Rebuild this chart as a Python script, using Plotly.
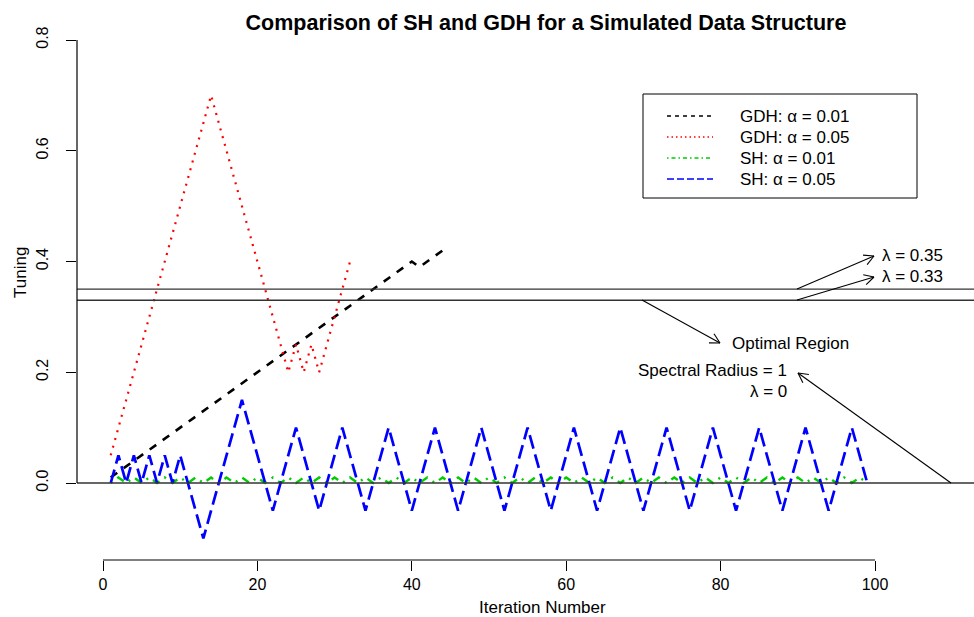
import math
import plotly.graph_objects as go

# ---------------- data ----------------
gdh01_x = list(range(1, 45))
gdh01_y = [0.01, 0.02, 0.03, 0.04, 0.05, 0.06, 0.07, 0.08, 0.09, 0.10,
           0.11, 0.12, 0.13, 0.14, 0.15, 0.16, 0.17, 0.18, 0.19, 0.20,
           0.21, 0.22, 0.23, 0.24, 0.25, 0.26, 0.27, 0.28, 0.29, 0.30,
           0.31, 0.32, 0.33, 0.34, 0.35, 0.36, 0.37, 0.38, 0.39, 0.40,
           0.39, 0.40, 0.41, 0.42]

gdh05_x = list(range(1, 33))
gdh05_y = [0.05, 0.10, 0.15, 0.20, 0.25, 0.30, 0.35, 0.40, 0.45, 0.50,
           0.55, 0.60, 0.65, 0.70, 0.65, 0.60, 0.55, 0.50, 0.45, 0.40,
           0.35, 0.30, 0.25, 0.20, 0.25, 0.20, 0.25, 0.20, 0.25, 0.30,
           0.35, 0.40]

sh01_x = list(range(1, 100))
sh01_y = [0, 0.01, 0, 0.01, 0, 0.01, 0, 0.01, 0, 0.01,
          0, 0.01, 0, 0.01, 0, 0.01, 0, 0.01, 0, 0.01,
          0, 0.01, 0, 0.01, 0, 0.01, 0, 0.01, 0, 0.01,
          0, 0.01, 0, 0.01, 0, 0.01, 0, 0.01, 0, 0.01,
          0, 0.01, 0, 0.01, 0, 0.01, 0, 0.01, 0, 0.01,
          0, 0.01, 0, 0.01, 0, 0.01, 0, 0.01, 0, 0.01,
          0, 0.01, 0, 0.01, 0, 0.01, 0, 0.01, 0, 0.01,
          0, 0.01, 0, 0.01, 0, 0.01, 0, 0.01, 0, 0.01,
          0, 0.01, 0, 0.01, 0, 0.01, 0, 0.01, 0, 0.01,
          0, 0.01, 0, 0.01, 0, 0.01, 0, 0.01, 0]

sh05_x = list(range(1, 100))
sh05_y = [0, 0.05, 0, 0.05, 0, 0.05, 0, 0.05, 0, 0.05,
          0, -0.05, -0.10, -0.05, 0, 0.05, 0.10, 0.15, 0.10, 0.05,
          0, -0.05, 0, 0.05, 0.10, 0.05, 0, -0.05, 0, 0.05,
          0.10, 0.05, 0, -0.05, 0, 0.05, 0.10, 0.05, 0, -0.05,
          0, 0.05, 0.10, 0.05, 0, -0.05, 0, 0.05, 0.10, 0.05,
          0, -0.05, 0, 0.05, 0.10, 0.05, 0, -0.05, 0, 0.05,
          0.10, 0.05, 0, -0.05, 0, 0.05, 0.10, 0.05, 0, -0.05,
          0, 0.05, 0.10, 0.05, 0, -0.05, 0, 0.05, 0.10, 0.05,
          0, -0.05, 0, 0.05, 0.10, 0.05, 0, -0.05, 0, 0.05,
          0.10, 0.05, 0, -0.05, 0, 0.05, 0.10, 0.05, 0]

ref_levels = [0.35, 0.33, 0.0]
x_ticks = [0, 20, 40, 60, 80, 100]
y_ticks = [0.0, 0.2, 0.4, 0.6, 0.8]
y_tick_text = ["0.0", "0.2", "0.4", "0.6", "0.8"]

series_names = ["GDH: α = 0.01", "GDH: α = 0.05", "SH: α = 0.01", "SH: α = 0.05"]
series_colors = ["#000000", "#FF0000", "#00CD00", "#0000FF"]
series_dash = ["8px,8px", "2px,6px", "2px,6px,8px,6px", "14px,6px"]
legend_dash = ["4px,4px", "1.5px,3px", "1.5px,3px,4px,3px", "7px,3px"]
series_width = [2.6, 2.2, 2.4, 2.7]

# ---------------- geometry (pixel mapping) ----------------
W, H = 974, 617
L, R, T, B = 77, 0, 0, 57
X0PX, XS = 103.0, 7.72      # pixel of x=0, px per unit
Y0PX, YS = 483.0, 553.75    # pixel of y=0, px per unit


def dx(p):
    return (p - X0PX) / XS


def dy(p):
    return (Y0PX - p) / YS


FONT = "Liberation Sans, Arial, Helvetica, sans-serif"

fig = go.Figure()
xs = [gdh01_x, gdh05_x, sh01_x, sh05_x]
ys = [gdh01_y, gdh05_y, sh01_y, sh05_y]
for i in range(4):
    fig.add_trace(go.Scatter(
        x=xs[i], y=ys[i], mode="lines", name=series_names[i],
        line=dict(color=series_colors[i], dash=series_dash[i], width=series_width[i]),
        showlegend=False, hoverinfo="skip"))

shapes = []
# reference horizontal lines (from y axis to right edge)
for lv in ref_levels:
    shapes.append(dict(type="line", xref="paper", yref="y", x0=0, x1=1, y0=lv, y1=lv,
                       line=dict(color="#333333", width=1.3)))
# axis lines
shapes.append(dict(type="line", xref="x", yref="paper", x0=x_ticks[0], x1=x_ticks[-1], y0=0, y1=0,
                   line=dict(color="black", width=1.2)))
shapes.append(dict(type="line", xref="paper", yref="y", x0=0, x1=0, y0=y_ticks[0], y1=y_ticks[-1],
                   line=dict(color="black", width=1.2)))


def arrow(x1p, y1p, x2p, y2p, head=11, ang=28):
    out = [dict(type="line", xref="x", yref="y", x0=dx(x1p), y0=dy(y1p), x1=dx(x2p), y1=dy(y2p),
                line=dict(color="black", width=1.1))]
    th = math.atan2(y2p - y1p, x2p - x1p)
    for s in (1, -1):
        a = th + math.pi + s * math.radians(ang)
        hx = x2p + head * math.cos(a)
        hy = y2p + head * math.sin(a)
        out.append(dict(type="line", xref="x", yref="y", x0=dx(hx), y0=dy(hy), x1=dx(x2p), y1=dy(y2p),
                        line=dict(color="black", width=1.1)))
    return out


shapes += arrow(797, 289, 874, 256)
shapes += arrow(797, 300, 874, 277)
shapes += arrow(642, 300, 720, 343)
shapes += arrow(951, 483, 798, 373)

# manual legend
LEG_L, LEG_R, LEG_T, LEG_B = 643, 917, 94, 198
shapes.append(dict(type="rect", xref="x", yref="y", x0=dx(LEG_L), x1=dx(LEG_R), y0=dy(LEG_T), y1=dy(LEG_B),
                   line=dict(color="black", width=1), fillcolor="white", layer="above"))
row_px = [116, 137, 158, 179]
annotations = []
for i in range(4):
    shapes.append(dict(type="line", xref="x", yref="y", x0=dx(667), x1=dx(713), y0=dy(row_px[i]), y1=dy(row_px[i]),
                       line=dict(color=series_colors[i], dash=legend_dash[i], width=1.5)))
    annotations.append(dict(x=dx(738), y=dy(row_px[i]), xref="x", yref="y", text=series_names[i],
                            showarrow=False, xanchor="left", yanchor="middle",
                            font=dict(family=FONT, size=17, color="black")))

# text annotations
annotations += [
    dict(x=dx(881), y=dy(255), text="λ = 0.35", xanchor="left"),
    dict(x=dx(881), y=dy(276), text="λ = 0.33", xanchor="left"),
    dict(x=dx(790), y=dy(343), text="Optimal Region", xanchor="center"),
    dict(x=dx(788), y=dy(370), text="Spectral Radius = 1", xanchor="right"),
    dict(x=dx(788), y=dy(391), text="λ = 0", xanchor="right"),
]
for a in annotations[4:]:
    a.update(xref="x", yref="y", showarrow=False, yanchor="middle", borderpad=0,
             font=dict(family=FONT, size=17, color="black"))

# axis titles (positions given in container pixels, converted to paper)
annotations.append(dict(x=(542 - L) / (W - L - R), y=(H - B - 607) / (H - T - B),
                        xref="paper", yref="paper", text="Iteration Number",
                        showarrow=False, xanchor="center", yanchor="middle",
                        font=dict(family=FONT, size=17, color="black")))
annotations.append(dict(x=(20 - L) / (W - L - R), y=(H - B - 273) / (H - T - B),
                        xref="paper", yref="paper", text="Tuning",
                        showarrow=False, xanchor="center", yanchor="middle", textangle=-90,
                        font=dict(family=FONT, size=17, color="black")))

fig.update_layout(
    width=W, height=H,
    margin=dict(l=L, r=R, t=T, b=B, pad=0),
    paper_bgcolor="white", plot_bgcolor="white",
    font=dict(family=FONT, size=16, color="black"),
    title=dict(text="<b>Comparison of SH and GDH for a Simulated Data Structure</b>",
               x=546 / W, y=1 - 22 / H, xref="container", yref="container",
               xanchor="center", yanchor="middle",
               font=dict(family=FONT, size=21.5, color="black")),
    xaxis=dict(range=[dx(L), dx(W - R)], tickvals=x_ticks, ticks="outside", ticklen=10,
               tickcolor="black", tickwidth=1, showgrid=False, zeroline=False, showline=False,
               tickfont=dict(family=FONT, size=16, color="black")),
    yaxis=dict(range=[dy(H - B), dy(T)], tickvals=y_ticks, ticktext=y_tick_text, ticks="outside",
               ticklen=10, tickcolor="black", tickwidth=1, showgrid=False, zeroline=False,
               showline=False, tickangle=-90, ticklabelstandoff=12,
               tickfont=dict(family=FONT, size=16, color="black")),
    shapes=shapes,
    annotations=annotations,
    showlegend=False,
)

fig.write_html("out.html")
